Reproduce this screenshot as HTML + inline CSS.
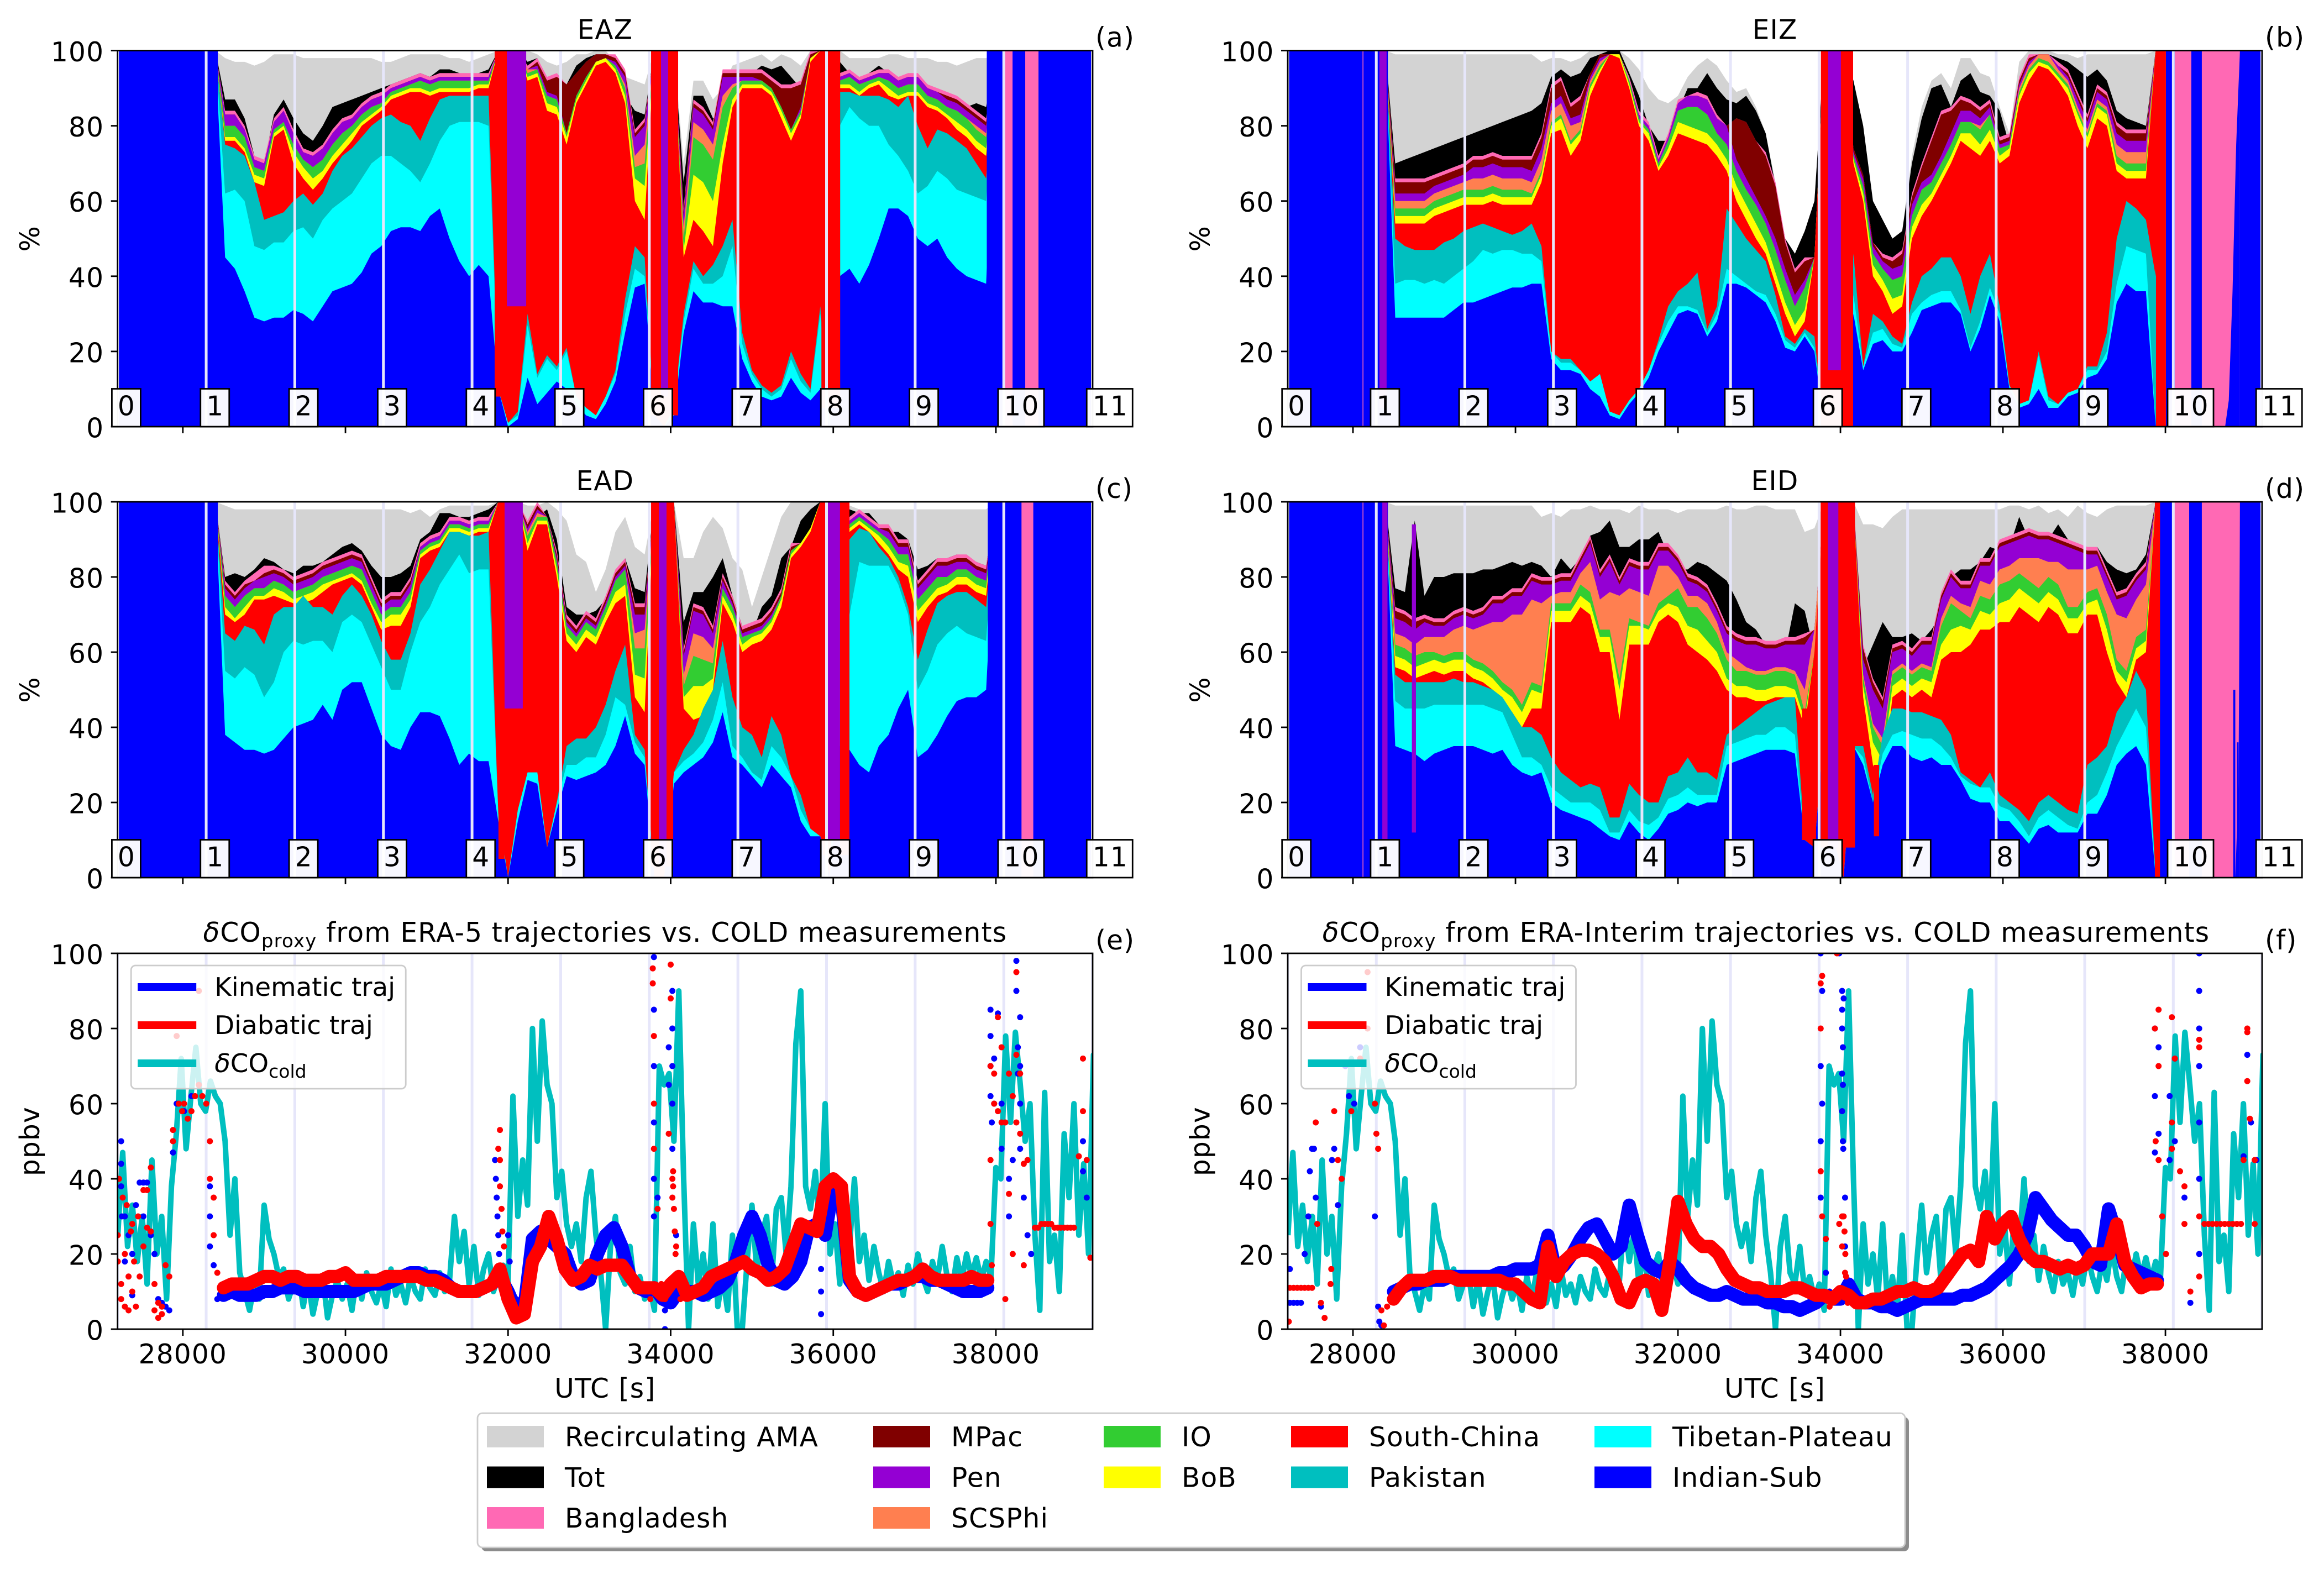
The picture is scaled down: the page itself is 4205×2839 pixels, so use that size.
<!DOCTYPE html>
<html lang="en">
<head>
<meta charset="utf-8">
<title>Air mass source contributions and CO proxy</title>
<style>
html,body{margin:0;padding:0;background:#fff}
svg{display:block}
text{font-family:"DejaVu Sans","Liberation Sans",sans-serif;font-size:48.6px;letter-spacing:1.15px;fill:#000}
</style>
</head>
<body>
<svg id="fig" xmlns="http://www.w3.org/2000/svg" width="4205" height="2839" viewBox="0 0 4205 2839"><defs id="defs"></defs></svg>
<script>
// ---------- stack grid (UTC seconds of each sample) ----------
const stackStart = 28400;
const stackStep = 120;
const yTicks = [0, 20, 40, 60, 80, 100];
const xTicks = [28000, 30000, 32000, 34000, 36000, 38000];
const sectionStart = 27197;
const sectionStep = 1090;
const sectionLabels = ['0','1','2','3','4','5','6','7','8','9','10','11'];
const layerNames = ['Indian-Sub','Tibetan-Plateau','Pakistan','South-China','BoB','IO','SCSPhi','Pen','MPac','Bangladesh','Tot','Recirculating AMA'];
const layerColors = ['#0000ff','#00ffff','#00bfbf','#ff0000','#ffff00','#32cd32','#ff7f50','#9400d3','#800000','#ff69b4','#000000','#d3d3d3'];

// ---------- panel (a) EAZ: upper edges (%) of base layers, shares (%) of thin layers ----------
const aIndianSub = [100,45,42,36,29,28,29,29,31,30, 28,32,36,37,38,41,46,48,52,53, 53,52,56,58,50,44,40,43,40,10, 0,2,13,6,9,12,10,6,3,2, 6,12,25,37,38,3,0,3,25,36, 33,33,32,32,18,12,8,7,8,13, 9,7,10,0,40,42,38,43,50,58, 58,56,50,48,50,45,42,40,39,38, 100];
const aTibetan = [100,62,63,60,48,47,49,49,52,53, 50,55,58,60,62,66,70,72,72,70, 68,65,70,76,80,81,81,81,80,10, 1,3,27,13,18,15,20,8,5,3, 8,14,30,42,40,3,0,5,28,42, 38,38,40,48,22,14,10,8,10,18, 12,9,30,0,80,85,82,80,80,75, 72,68,62,64,68,66,63,62,61,60, 100];
const aPakistan = [100,75,74,72,65,55,56,57,60,62, 59,62,68,72,74,77,80,82,83,81, 80,76,82,87,88,88,88,88,88,10, 1,4,30,14,19,16,21,8,5,3, 8,15,34,48,45,3,0,5,30,44, 40,43,48,55,25,15,11,9,11,20, 14,10,32,0,89,89,88,88,88,87, 85,88,80,74,79,78,76,74,70,66, 100];
const aSouthChina = [100,76,76,73,65,64,77,79,70,66, 63,66,70,73,76,80,82,84,87,88, 89,89,88,89,89,89,89,90,90,100, 100,100,92,93,84,83,75,86,91,96, 97,94,86,60,55,100,100,100,45,55, 52,48,70,85,90,90,90,88,82,76, 82,97,100,100,90,90,88,90,91,88, 87,88,88,85,84,82,79,77,74,72, 100];
const aBoB = [0,1,1,1,2,2,1,1,3,3, 3,2,2,2,2,1,1,1,1,1, 1,1,1,1,1,1,1,1,1,0, 0,0,1,1,2,2,2,1,1,1, 1,1,2,6,9,0,0,0,2,12, 13,12,5,2,1,1,1,1,2,2, 1,1,0,0,1,1,1,1,1,2, 1,1,1,1,1,1,2,2,2,2, 0];
const aIO = [0,3,3,3,2,2,1,1,2,2, 3,3,3,3,2,2,2,1,1,1, 1,2,2,2,2,2,2,1,1,0, 0,0,1,1,2,2,1,1,1,0, 0,1,2,3,6,0,0,0,3,10, 10,11,10,3,1,1,1,1,1,1, 1,0,0,0,1,2,2,1,1,2, 2,2,2,2,2,2,3,3,3,3, 0];
const aSCSPhi = [0,0,0,0,0,0,0,0,0,0, 0,0,0,0,0,0,0,0,0,0, 0,0,0,0,0,0,0,0,0,0, 0,0,1,0,0,0,0,0,0,0, 0,0,1,3,5,0,0,0,3,4, 4,4,3,1,0,0,0,0,0,0, 0,0,0,0,0,0,0,0,0,0, 0,0,0,0,0,0,0,0,1,1, 0];
const aPen = [0,3,3,2,2,2,2,3,3,2, 3,3,3,3,2,2,2,2,1,1, 1,1,1,1,1,1,1,1,1,0, 0,0,0,1,1,1,0,0,0,0, 0,1,2,5,5,0,0,0,3,4, 4,4,5,2,1,1,0,0,0,0, 1,0,0,0,1,1,1,1,1,2, 2,2,2,2,2,2,2,2,2,2, 0];
const aMPac = [0,0,0,0,0,0,0,0,0,0, 0,0,0,0,0,0,0,0,0,0, 0,0,0,0,0,0,0,0,0,0, 0,0,0,1,3,5,13,6,4,2, 1,1,1,1,1,0,0,0,1,1, 1,1,1,1,1,1,2,2,5,11, 6,1,0,0,0,0,0,0,0,0, 0,0,0,0,0,1,1,1,1,1, 0];
const aBangladesh = [0,1,1,1,1,1,1,1,1,1, 1,1,1,1,1,1,1,1,1,1, 1,1,1,1,1,1,1,1,1,0, 0,0,1,1,1,1,0,0,0,0, 0,1,1,1,1,0,0,0,1,1, 1,1,1,1,1,1,1,1,1,1, 1,1,0,0,1,1,1,1,1,1, 1,1,1,1,1,1,1,1,1,1, 0];
const aTot = [100,87,87,82,72,70,83,87,82,78, 76,80,85,86,87,88,89,90,91,92, 93,94,93,95,95,94,93,94,95,100, 100,100,97,98,88,93,91,96,98,99, 99,96,88,84,83,100,100,100,65,88, 88,82,83,90,93,94,96,95,96,93, 90,98,100,100,97,94,92,94,96,94, 93,93,92,91,89,87,86,85,86,85, 100];
const aRecirc = [100,98,97,97,96,97,99,99,99,98, 98,98,98,98,98,98,98,97,97,98, 99,99,99,99,98,98,97,98,99,100, 100,100,100,99,97,96,97,99,99,100, 100,97,93,92,91,100,100,100,70,92, 92,87,90,96,97,98,99,97,99,98, 96,100,100,100,100,98,98,98,98,99, 99,98,98,98,97,97,96,97,98,98, 100];
const aColumns = [['Indian-Sub',27197,28430,0,100],['Indian-Sub',37888,39190,0,100],['South-China',31835,31985,8,100],['Pen',31985,32223,32,100],['South-China',33759,33881,3,100],['Pen',33881,33970,8,100],['South-China',33970,34092,3,100],['South-China',35854,36085,5,100],['Bangladesh',38096,38205,0,100],['Bangladesh',38361,38524,0,100]];
const aTailUtc = [];
const aTailBlue = [];

// ---------- panel (b) EIZ ----------
const bIndianSub = [100,29,29,29,29,29,29,31,33,33, 34,35,36,37,37,38,38,18,15,15, 14,10,8,3,2,6,9,13,20,25, 30,31,30,24,28,38,38,37,35,33, 28,21,20,24,20,0,0,0,30,15, 22,23,20,20,25,31,32,33,33,30, 20,26,35,28,10,5,6,10,5,5, 8,9,13,14,18,33,38,36,36,0, 100];
const bTibetan = [100,38,39,39,38,39,38,40,42,44, 47,46,47,47,46,46,44,20,17,17, 15,12,14,4,3,7,10,15,22,28, 32,32,31,25,30,42,40,38,36,35, 30,23,21,25,21,0,0,0,35,16, 25,26,22,21,30,33,35,36,36,31, 21,28,37,30,11,6,7,19,7,6, 9,10,15,15,20,38,48,47,46,0, 100];
const bPakistan = [100,50,48,47,47,47,49,50,52,53, 54,53,52,51,52,54,48,20,18,18, 15,12,14,4,3,7,10,15,23,32, 36,38,41,26,32,58,54,50,47,44, 35,24,22,26,24,0,0,0,46,16, 30,28,24,22,33,40,42,45,45,40, 30,40,46,32,11,6,7,20,8,6, 9,10,16,16,25,50,60,58,55,40, 100];
const bSouthChina = [100,54,54,54,54,56,57,58,59,59, 59,60,59,59,59,59,65,78,79,72, 76,88,94,99,98,90,80,76,68,72, 78,77,76,75,72,68,60,55,50,46, 38,30,24,28,45,100,100,100,70,60, 40,36,30,32,50,56,60,65,70,76, 74,72,76,70,72,86,92,96,95,92, 88,80,74,82,80,68,66,66,66,100, 100];
const bBoB = [0,2,2,2,2,2,2,2,2,2, 2,2,2,2,2,2,2,2,3,3, 2,2,1,0,1,1,1,2,1,2, 3,3,3,3,3,3,4,4,4,3, 3,3,3,3,0,0,0,0,1,2, 3,3,4,3,3,3,2,2,2,2, 4,3,3,2,2,2,2,1,1,1, 2,3,3,3,3,2,2,2,2,0, 0];
const bIO = [0,2,2,2,2,2,2,2,2,2, 2,2,2,2,2,1,1,1,1,1, 1,1,1,0,0,1,1,1,1,2, 3,5,6,5,3,4,4,4,5,5, 6,6,5,6,0,0,0,0,1,2, 3,3,5,5,3,4,3,3,3,3, 3,4,4,2,1,1,1,1,1,1, 1,1,1,1,1,2,2,2,2,0, 0];
const bSCSPhi = [0,2,2,2,2,2,2,2,2,3, 3,3,3,3,3,3,3,3,3,4, 2,1,1,0,0,0,0,0,0,0, 0,0,0,0,0,0,0,0,0,0, 0,0,0,0,0,0,0,0,0,0, 0,0,0,0,0,0,0,0,0,0, 0,1,0,0,0,1,1,1,2,1, 1,1,1,1,1,3,3,3,3,0, 0];
const bPen = [0,2,2,2,2,2,2,2,2,3, 3,3,3,3,3,3,3,2,2,2, 2,1,1,0,0,0,1,1,1,1, 2,3,3,4,4,5,3,3,2,2, 3,3,3,2,0,0,0,0,1,2, 2,2,3,3,3,2,2,2,3,3, 3,2,2,1,1,1,1,0,0,1, 1,2,2,2,2,3,3,3,3,0, 0];
const bMPac = [0,3,3,3,3,2,2,2,2,2, 2,2,2,2,2,3,3,4,4,3, 4,1,1,0,0,0,0,0,0,0, 0,0,0,0,0,0,11,15,15,16, 14,7,6,5,0,0,0,0,1,1, 1,1,2,3,2,4,9,11,6,3, 2,2,1,1,1,1,1,0,0,0, 1,1,1,1,1,2,2,2,2,0, 0];
const bBangladesh = [0,1,1,1,1,1,1,1,1,1, 1,1,1,1,1,1,1,1,1,1, 1,0,0,0,0,1,1,1,1,1, 1,0,1,1,1,0,0,0,0,1, 1,1,1,1,0,0,0,0,0,0, 0,1,1,1,1,1,1,1,1,1, 1,1,1,1,1,1,1,0,0,1, 1,1,1,1,1,1,1,1,1,0, 0];
const bTot = [100,70,71,72,73,74,75,76,77,78, 79,80,81,82,83,84,86,93,95,93, 94,98,99,100,100,94,88,80,76,76, 84,90,90,94,90,87,86,88,84,78, 64,50,46,52,60,100,100,100,92,80, 60,55,50,52,70,82,90,91,85,92, 94,89,88,84,75,92,98,98,99,98, 97,95,93,95,92,84,82,81,80,100, 100];
const bRecirc = [100,99,99,99,99,99,99,99,99,99, 99,99,99,99,99,99,97,98,98,97, 98,100,100,100,100,98,95,90,87,86, 88,93,96,98,96,92,89,90,85,78, 65,50,46,52,60,100,100,100,92,80, 60,55,50,52,72,85,92,94,90,98, 98,94,93,85,78,97,100,100,100,99, 99,98,99,99,99,99,99,99,99,100, 100];
const bColumns = [['Indian-Sub',27197,28430,0,100],['Bangladesh',28118,28128,0,100],['Pen',28325,28414,5,100],['South-China',33760,33850,0,100],['Pen',33850,34006,15,100],['South-China',34006,34156,0,100],['South-China',37884,38006,0,100],['Indian-Sub',38006,39190,0,100],['Bangladesh',38115,38319,0,100],['Bangladesh',38448,38917,0,100]];
const bTailUtc = [38735,38780,38826,38871,38917];
const bTailBlue = [0,7,36,75,100];

// ---------- panel (c) EAD ----------
const cIndianSub = [100,38,36,34,34,33,34,37,40,41, 42,46,42,50,52,52,45,38,35,34, 40,44,44,43,37,30,33,31,31,15, 0,15,26,25,8,18,27,26,27,28, 30,35,43,33,30,0,0,25,28,30, 32,36,44,32,30,27,24,30,27,24, 15,11,11,0,35,34,30,28,35,38, 45,50,32,34,38,43,47,48,48,50, 100];
const cTibetan = [100,55,53,56,54,48,52,60,63,62, 63,63,60,68,70,68,62,56,50,50, 60,68,72,78,82,86,81,82,82,17, 0,18,28,28,8,20,30,30,32,32, 38,48,46,36,32,0,0,28,31,33, 36,42,52,35,32,28,26,35,32,27, 18,13,11,0,50,70,84,83,83,83, 78,70,50,55,62,65,67,65,64,63, 100];
const cPakistan = [100,65,63,67,66,62,70,72,72,75, 72,72,70,75,78,75,70,63,58,58, 65,78,82,87,92,92,91,91,92,17, 0,18,28,28,8,20,35,37,37,40, 46,55,62,38,34,0,0,28,34,38, 45,50,63,48,40,38,32,43,38,27, 22,13,11,0,85,90,93,92,88,85, 80,72,58,66,73,75,76,76,74,72, 100];
const cSouthChina = [100,70,68,70,74,74,75,74,73,73, 74,76,78,79,80,78,72,66,67,67, 72,85,87,88,92,92,91,92,92,100, 100,100,87,94,94,80,63,60,64,62, 68,73,75,48,44,100,100,100,45,42, 43,50,73,68,60,62,63,66,72,85, 88,92,100,100,100,92,94,92,89,86, 82,80,68,72,75,76,78,78,76,75, 100];
const cBoB = [0,2,1,2,1,1,2,2,1,2, 2,2,1,1,1,1,1,2,3,3, 2,1,1,1,1,1,1,1,1,0, 0,0,2,1,1,2,2,2,2,2, 2,3,3,6,9,0,0,0,3,9, 8,3,2,2,2,2,2,2,2,1, 1,1,0,0,0,1,1,1,2,2, 2,3,3,2,2,2,2,2,2,2, 0];
const cIO = [0,3,3,3,2,2,2,2,2,2, 2,2,2,2,2,3,3,2,2,2, 2,1,1,1,1,1,1,1,1,0, 0,0,2,1,1,2,2,2,2,2, 2,3,4,7,8,0,0,0,3,8, 7,4,2,2,2,1,1,1,1,1, 0,0,0,0,0,1,1,1,1,2, 2,3,3,3,3,2,2,2,2,2, 0];
const cSCSPhi = [0,0,0,0,0,0,0,0,0,0, 0,0,0,0,0,0,0,0,0,0, 0,0,0,0,0,0,0,0,0,0, 0,0,1,1,0,0,0,0,0,0, 0,0,0,4,5,0,0,0,3,6, 6,4,0,0,0,0,0,0,0,0, 0,0,0,0,0,0,0,0,0,0, 0,0,0,0,0,0,0,0,0,0, 0];
const cPen = [0,2,2,2,2,3,2,2,2,2, 2,2,2,2,2,2,2,2,2,2, 2,1,1,1,1,1,1,1,1,0, 0,0,1,1,0,1,1,1,1,1, 1,1,1,5,4,0,0,0,5,6, 6,4,2,1,1,1,1,1,0,0, 0,0,0,0,0,1,1,1,1,2, 2,2,3,3,3,3,2,2,2,2, 0];
const cMPac = [0,1,1,1,0,1,1,1,1,1, 1,1,1,1,1,1,1,1,1,1, 1,0,0,0,0,0,0,0,0,0, 0,0,1,1,0,1,1,1,1,1, 1,1,1,2,2,0,0,0,1,1, 1,1,1,1,1,1,1,1,1,1, 0,0,0,0,0,0,0,0,0,1, 1,1,1,1,1,1,1,1,1,1, 0];
const cBangladesh = [0,1,1,1,2,2,1,1,1,1, 1,1,1,1,1,1,1,1,1,1, 1,1,1,1,1,1,1,1,1,0, 0,0,1,1,0,1,1,1,1,1, 1,1,1,1,1,0,0,0,1,1, 1,1,1,1,1,1,1,1,1,1, 0,0,0,0,0,1,1,1,1,1, 1,1,1,1,1,1,1,1,1,1, 0];
const cTot = [100,80,81,80,82,85,84,82,81,83, 83,84,86,88,89,87,83,80,80,81, 83,90,92,97,97,96,96,97,98,100, 100,100,92,96,98,90,72,70,70,71, 74,78,85,77,76,100,100,100,68,76, 76,80,85,75,67,65,72,75,85,88, 95,98,100,100,100,98,97,97,94,92, 92,90,82,83,85,85,86,85,84,83, 100];
const cRecirc = [100,99,98,98,98,98,98,98,98,98, 98,98,98,98,98,98,98,98,98,98, 97,98,96,98,99,99,99,99,99,100, 100,100,99,99,100,98,95,86,84,76, 82,92,96,88,86,100,100,100,85,85, 92,96,93,85,82,72,80,88,96,100, 100,100,100,100,100,99,98,98,98,98, 98,98,98,98,98,98,98,98,98,98, 100];
const cColumns = [['Indian-Sub',27197,28430,0,100],['Indian-Sub',37900,39190,0,100],['South-China',31882,31957,5,100],['Pen',31957,32181,45,100],['South-China',33759,33854,3,100],['Pen',33854,33949,3,100],['South-China',33949,34031,3,100],['South-China',35873,35927,6,100],['Pen',35927,36083,10,100],['South-China',36083,36199,6,100],['Bangladesh',38315,38460,0,100]];
const cTailUtc = [];
const cTailBlue = [];

// ---------- panel (d) EID ----------
const dIndianSub = [100,35,34,33,31,33,34,35,35,35, 34,33,34,30,28,27,28,20,18,17, 16,15,13,11,10,15,12,10,13,17, 18,20,19,20,20,30,31,32,33,34, 34,34,33,10,8,40,10,0,35,30, 20,30,35,35,32,31,32,30,30,26, 21,20,20,15,15,12,9,13,14,12, 12,12,17,17,22,30,33,35,30,0, 100];
const dTibetan = [100,47,45,45,45,46,46,46,46,46, 46,45,44,38,32,32,30,24,22,20, 20,20,18,12,12,18,15,14,16,21, 22,24,22,22,22,35,36,37,38,38, 40,40,38,10,8,40,10,0,35,32, 20,33,38,39,38,37,37,35,32,27, 25,24,24,19,18,15,11,16,18,16, 14,13,20,22,28,35,40,45,40,0, 100];
const dPakistan = [100,54,52,52,52,52,52,53,52,52, 51,50,48,44,40,40,38,32,28,26, 24,25,24,16,16,25,22,20,20,27, 28,32,28,28,26,38,40,42,44,46, 47,48,48,10,8,40,10,0,35,35, 22,38,45,45,44,44,43,42,38,28, 26,24,28,22,20,18,15,20,22,20, 18,17,30,32,35,44,48,55,50,0, 100];
const dSouthChina = [100,56,55,53,54,55,54,55,55,53, 52,50,47,44,40,45,45,68,68,68, 72,70,60,60,42,62,62,62,68,70, 68,62,60,58,55,50,48,48,47,47, 48,48,48,40,60,100,100,100,100,48, 30,25,48,50,48,50,48,58,60,60, 62,66,66,68,68,72,70,68,72,70, 65,65,70,70,60,52,48,58,60,100, 100];
const dBoB = [0,3,3,3,3,3,3,3,3,3, 3,3,3,4,4,5,4,3,3,3, 3,3,4,4,8,5,5,4,3,3, 4,5,6,5,5,3,3,3,3,3, 3,3,2,2,0,0,0,0,0,3, 6,6,3,3,3,3,4,4,6,7, 4,5,4,5,6,5,5,5,4,4, 4,4,3,4,6,3,4,3,3,0, 0];
const dIO = [0,3,3,3,3,2,2,2,2,2, 2,2,2,2,2,2,2,2,2,2, 3,3,2,2,3,2,1,1,2,2, 5,5,6,6,5,5,4,4,4,4, 4,4,4,2,0,0,0,0,0,2, 4,4,3,3,3,3,3,5,7,4, 3,4,4,5,5,4,4,4,4,4, 3,3,3,3,4,3,3,3,3,0, 0];
const dSCSPhi = [0,3,3,3,4,4,5,6,7,8, 10,13,16,20,24,22,22,2,3,3, 3,8,8,10,22,8,8,8,10,8, 3,3,3,4,3,2,3,1,1,1, 1,1,1,6,6,0,0,0,0,1, 1,2,1,1,1,1,1,2,2,2, 3,4,4,4,4,4,6,8,4,6, 10,10,6,6,6,12,14,10,12,0, 0];
const dPen = [0,4,4,4,4,3,3,3,3,3, 3,5,5,5,5,5,5,3,3,3, 3,5,6,8,3,6,6,7,4,4, 4,4,3,3,3,5,5,6,7,6, 5,6,7,12,0,0,0,0,0,4, 9,8,5,4,4,5,6,5,5,4, 5,4,5,6,6,5,6,5,6,5, 6,5,4,3,4,4,6,5,4,0, 0];
const dMPac = [0,2,2,2,1,1,1,1,1,1, 1,1,1,1,1,1,1,1,1,1, 1,1,1,1,1,1,1,1,1,1, 1,1,1,1,1,1,1,1,1,1, 1,1,1,2,0,0,0,0,0,3, 2,2,1,1,1,1,1,1,1,1, 1,1,1,1,1,1,1,1,1,1, 1,1,1,1,1,1,1,1,1,0, 0];
const dBangladesh = [0,1,1,1,1,1,1,1,1,1, 1,1,1,1,1,1,1,1,1,1, 1,1,1,1,1,1,1,1,1,1, 1,1,1,1,1,1,1,1,1,1, 1,1,1,1,0,0,0,0,0,1, 1,1,1,1,1,1,1,1,1,1, 1,1,1,1,1,1,1,1,1,1, 1,1,1,1,1,1,1,1,1,0, 0];
const dTot = [100,77,76,95,75,80,80,81,81,81, 82,82,83,84,83,84,83,80,85,82, 85,91,92,95,88,88,90,90,92,86, 82,82,84,83,81,79,74,68,66,62, 62,60,73,71,60,100,100,100,100,56, 62,68,64,64,65,63,66,70,80,82, 82,84,88,87,88,96,90,88,90,94, 90,88,84,88,84,82,81,82,86,100, 100];
const dRecirc = [100,99,99,99,99,99,99,99,99,99, 99,99,99,99,99,99,96,97,96,98, 98,99,98,98,98,97,99,98,98,98, 97,98,98,98,98,99,98,98,99,99, 98,98,98,92,93,100,100,100,100,94, 94,93,96,98,98,98,98,98,98,98, 98,98,98,98,99,99,98,99,97,98, 96,99,97,96,98,99,99,99,99,100, 100];
const dColumns = [['Indian-Sub',27197,28430,0,100],['Bangladesh',28118,28128,0,100],['Pen',28361,28425,5,100],['Pen',28725,28775,12,94],['South-China',33526,33700,10,45],['South-China',33757,33846,8,100],['Pen',33846,33975,8,100],['South-China',33975,34179,8,100],['South-China',34412,34476,11,30],['South-China',37870,37934,0,100],['Indian-Sub',37934,39190,0,100],['Bangladesh',38107,38292,0,100],['Bangladesh',38448,38917,0,100],['Indian-Sub',38835,38860,0,50],['Indian-Sub',38880,38900,0,36]];
const dTailUtc = [38860,38900,38917];
const dTailBlue = [0,25,100];

// ---------- CO panels ----------
const coldStart = 27200;
const coldStep = 60;
const coldPpb = [25,47,22,33,18,30,12,45,20,30,8,38, 52,72,48,62,75,60,58,66,62,60,50,25,40,15, 10,5,12,8,33,24,20,14,16,8, 12,15,6,13,4,10,14,3,9,13, 8,12,5,14,8,15,10,7,12,6, 16,9,12,7,14,10,8,16,11,9, 15,10,13,30,18,26,12,22,9,16, 20,10,14,17,12,62,30,45,33,80, 50,82,65,60,35,42,28,22,28,18, 35,42,25,15,0,22,30,15,12,22, 10,14,8,12,5,70,65,68,50,90, 40,0,28,12,20,8,28,6,14,5, 25,0,0,18,33,15,25,30,12,32, 35,20,38,76,90,38,32,42,25,60, 20,28,12,30,22,40,18,25,13,22, 15,10,18,12,15,9,17,12,20,14, 10,18,13,22,14,10,19,13,20,14, 19,13,18,14,43,40,78,55,79,65, 50,60,25,5,63,18,25,10,52,35, 60,25,44,20,73,15];
const kinBandStart = 28500;
const kinBandStep = 100;
const kin5Band = [9,10,9,9,9,10, 10,11,11,11,10,10,10,10,10,10, 10,11,12,12,12,13,14,15, 15,14,14,13,11,10,10, 10,11,12, 14,10,5,6, 24,26,24,22,20,14, 12,13,20,25,27,22, 14,11,10, 11,8,7,10,10, 10,9,10,11,13,18, 25,30,25,17,13, 12,14,18,27, 28,25,38,35, 13,10,9,10, 11,12,12,13,14, 14,13,13,12,11,10,10,10,11];
const dia5Band = [11,12,12,12,13,14, 14,13,14,14,13,13,13,14,14,15, 13,13,13,13,14,14,14,14, 14,13,13,12,11,10,10, 10,11,12, 16,8,3,4, 18,22,30,24,16,13, 14,17,16,17,17,17, 14,11,11, 11,9,12,14,9, 10,11,14,15,16,17, 18,16,15,13,14, 16,22,28,27, 26,38,40,38, 14,10,9,10, 11,12,13,13,14, 16,14,13,13,13,13,14,13,13];
const kinIntBand = [10,11,12,12,13,13, 13,14,14,14,14,14,14,15,15,16, 16,16,17,25,15,17,20,24, 27,28,24,20,22,33,25, 18,16,15, 18,16,13,11, 10,9,9,10,9,8, 8,8,7,7,6,6, 5,6,7, 9,8,8,12,8, 7,7,6,6,5,6, 7,8,8,8,8, 8,9,9,10, 11,13,15,17, 20,25,35,32, 29,27,25,25,22, 18,17,32,25,17,16,15,14,13];
const diaIntBand = [8,11,13,13,13,14, 14,14,13,13,13,13,13,13,12,12, 10,8,7,22,14,18,20,21, 21,20,18,14,8,7,12, 13,12,5, 18,34,28,24, 22,22,20,16,13,12, 11,11,10,10,10,11, 11,10,9, 9,8,10,9,7, 7,8,8,9,10,10, 11,10,10,11,14, 17,20,21,18, 30,24,28,30, 24,20,18,18, 17,16,17,16,17, 20,20,20,28,18,14,11,12,12];
const kin5Scatter = [[27241,50],[27241,44],[27241,38],[27250,30],[27287,30],[27287,18],[27332,25],[27378,20],[27378,9],[27423,33],[27469,39],[27515,39],[27560,39],[27515,30],[27606,25],[27651,20],[27697,8],[27742,7],[27788,6],[27833,5],[27879,47],[27924,60],[28015,58],[28106,62],[28197,65],[28333,38],[28333,30],[28333,22],[28379,17],[28424,8],[31840,45],[31850,40],[31860,35],[31870,30],[31880,25],[31890,20],[32000,25],[32020,18],[32100,8],[33794,99],[33794,85],[33794,70],[33794,55],[33794,40],[33794,30],[33839,35],[33885,10],[33930,5],[33930,0],[33976,75],[33976,65],[34021,90],[34021,80],[34021,70],[34021,60],[34021,48],[34067,25],[35850,4],[35850,10],[35850,16],[37934,85],[37934,78],[37934,70],[37934,62],[37950,55],[37979,72],[37979,60],[38025,84],[38070,60],[38070,48],[38161,40],[38161,30],[38207,45],[38252,98],[38252,90],[38270,75],[38270,68],[38298,83],[38298,70],[38298,60],[38298,48],[38343,35],[38389,25],[38434,20],[39071,50],[39071,42],[39117,35]];
const dia5Scatter = [[27200,18],[27200,25],[27215,40],[27241,12],[27241,8],[27260,35],[27287,6],[27287,20],[27310,33],[27332,5],[27332,14],[27360,26],[27378,10],[27378,28],[27400,18],[27423,6],[27450,30],[27469,14],[27515,37],[27515,22],[27560,37],[27560,27],[27606,43],[27606,26],[27651,5],[27651,12],[27697,3],[27697,7],[27742,4],[27742,6],[27788,17],[27833,14],[27879,50],[27879,53],[27924,78],[27950,60],[27990,58],[28015,60],[28060,56],[28106,58],[28150,62],[28197,90],[28197,65],[28240,62],[28288,60],[28333,50],[28333,40],[28379,35],[28379,25],[28424,15],[31880,48],[31900,53],[31900,45],[31900,38],[31920,32],[31930,26],[31950,22],[33750,8],[33780,96],[33780,92],[33794,78],[33794,60],[33794,48],[33839,32],[33885,12],[33930,8],[33976,52],[34000,97],[34000,88],[34021,40],[34021,35],[34030,42],[34030,38],[34040,32],[34050,26],[34060,20],[34067,22],[34120,8],[37934,70],[37934,45],[37934,28],[37950,17],[37979,68],[37979,60],[38025,83],[38025,58],[38070,75],[38070,55],[38116,55],[38116,8],[38161,68],[38161,36],[38207,62],[38207,20],[38252,95],[38252,73],[38252,55],[38298,68],[38298,52],[38343,44],[38343,17],[38389,45],[38480,27],[38520,27],[38560,28],[38600,28],[38640,28],[38680,28],[38720,27],[38760,27],[38800,27],[38840,27],[38880,27],[38920,27],[38960,27],[39020,46],[39071,72],[39071,58],[39117,45],[39162,19]];
const kinIntScatter = [[27223,16],[27223,7],[27269,7],[27314,7],[27360,7],[27405,20],[27451,30],[27469,42],[27496,48],[27520,48],[27542,35],[27606,6],[27742,45],[27769,48],[27815,33],[27906,70],[27950,62],[28015,60],[28088,75],[28270,30],[28310,6],[28324,2],[28350,1],[33757,100],[33775,90],[33757,70],[33757,50],[33757,35],[33775,60],[33821,15],[33866,10],[33985,100],[34021,90],[34021,85],[34021,80],[34030,75],[34021,68],[34030,65],[34021,58],[34030,50],[34035,48],[34040,88],[34057,35],[34057,22],[37870,80],[37870,62],[37870,47],[37916,75],[37916,52],[37961,30],[38052,62],[38052,45],[38116,72],[38116,50],[38234,35],[38307,7],[38416,100],[38416,90],[38416,80],[38416,70],[38416,55],[38416,40],[38416,20],[39008,73],[38962,46],[39053,55],[39120,45]];
const diaIntScatter = [[27210,2],[27223,11],[27269,11],[27314,11],[27360,11],[27405,11],[27451,11],[27496,11],[27542,55],[27560,28],[27606,7],[27651,3],[27724,12],[27733,16],[27769,58],[27815,45],[27860,40],[27979,58],[28179,95],[28179,80],[28088,72],[28270,60],[28288,52],[28310,48],[28350,5],[28380,1],[28420,6],[33757,92],[33775,94],[33757,80],[33757,42],[33775,30],[33821,24],[33866,6],[33957,100],[33985,28],[34021,30],[34021,22],[34040,30],[34050,26],[34060,20],[34070,14],[34057,15],[34090,7],[37870,80],[37880,50],[37916,85],[37916,70],[37916,45],[37961,30],[38007,20],[38080,83],[38080,55],[38080,48],[38116,72],[38180,42],[38234,38],[38234,28],[38307,10],[38416,77],[38416,75],[38416,30],[38416,14],[38480,28],[38530,28],[38580,28],[38630,28],[38680,28],[38730,28],[38780,28],[38830,28],[38880,28],[38930,28],[38962,45],[39008,80],[39008,79],[39008,66],[39040,56],[39099,45],[39099,28]];

// ---------- layout and scales ----------
const svg = document.getElementById('fig');
const defs = document.getElementById('defs');
const NS = 'http://www.w3.org/2000/svg';
const colX = [[212.7, 1977], [2330, 4093]];
const rowY = [[91.5, 772], [908, 1588], [1725, 2405]];
const utcMin = 27197;
const utcMax = 39190;
function xAxis(col) { return function (u) { return colX[col][0] + (u - utcMin) / (utcMax - utcMin) * (colX[col][1] - colX[col][0]); }; }
function yAxis(row) { return function (v) { return rowY[row][1] - v / 100 * (rowY[row][1] - rowY[row][0]); }; }
function mk(tag, parent, attrs, txt) {
  const el = document.createElementNS(NS, tag);
  for (const k in attrs) el.setAttribute(k, attrs[k]);
  if (txt !== undefined) el.textContent = txt;
  parent.appendChild(el);
  return el;
}
function fmt(n) { return n.toFixed(1); }

function drawAxes(g, col, row, titleNode, tag, yLabel, showXLabels) {
  const xs = xAxis(col), ys = yAxis(row);
  const x0 = colX[col][0], x1 = colX[col][1], y0 = rowY[row][0], y1 = rowY[row][1];
  const frame = mk('rect', g, {x: x0, y: y0, width: x1 - x0, height: y1 - y0, fill: 'none', stroke: '#000', 'stroke-width': 2.8});
  
  
  yTicks.forEach(function (t) {
    const tick = mk('line', g, {x1: x0 - 12, x2: x0, y1: ys(t), y2: ys(t), stroke: '#000', 'stroke-width': 2.8});
    
    
    const lab = mk('text', g, {x: x0 - 24.5, y: ys(t) + 19.5, 'text-anchor': 'end'}, String(t));
    
    
  });
  xTicks.forEach(function (t) {
    const tick = mk('line', g, {x1: xs(t), x2: xs(t), y1: y1, y2: y1 + 12, stroke: '#000', 'stroke-width': 2.8});
    
    
    if (showXLabels) {
      const lab = mk('text', g, {x: xs(t), y: y1 + 62, 'text-anchor': 'middle'}, String(t));
      
      
    }
  });
  if (showXLabels) {
    const xl = mk('text', g, {x: (x0 + x1) / 2, y: y1 + 124, 'text-anchor': 'middle'}, 'UTC [s]');
    
    
  }
  const yc = (y0 + y1) / 2;
  const lx = x0 - 141.7;
  const yl = mk('text', g, {x: lx, y: yc, 'text-anchor': 'middle', transform: 'rotate(-90 ' + lx + ' ' + yc + ')'}, yLabel);
  
  
  const tg = mk('text', g, {x: x1 + 5, y: y0 - 7}, tag);
  
  
  const title = mk('text', g, {x: (x0 + x1) / 2, y: y0 - 21, 'text-anchor': 'middle'});
  
  
  titleNode(title);
}

function clipFor(id, col, row) {
  const cp = mk('clipPath', defs, {id: id});
  mk('rect', cp, {x: colX[col][0], y: rowY[row][0], width: colX[col][1] - colX[col][0], height: rowY[row][1] - rowY[row][0]});
}

function drawStackPanel(name, col, row, titleText, tag, base, thin, tot, recirc, columns, tailUtc, tailBlue) {
  const xs = xAxis(col), ys = yAxis(row);
  const g = mk('g', svg, {});
  
  
  clipFor('clip-' + name, col, row);
  const plot = mk('g', g, {'clip-path': 'url(#clip-' + name + ')'});
  
  
  const tops = base.slice();
  thin.forEach(function (share) {
    const prev = tops[tops.length - 1];
    tops.push(share.map(function (s, i) { return Math.min(100, prev[i] + s); }));
  });
  tops.push(tot);
  tops.push(recirc);
  for (let k = tops.length - 1; k >= 0; k--) {
    const arr = tops[k];
    let pts = fmt(xs(stackStart)) + ',' + fmt(ys(0));
    arr.forEach(function (v, i) { pts += ' ' + fmt(xs(stackStart + i * stackStep)) + ',' + fmt(ys(v)); });
    pts += ' ' + fmt(xs(stackStart + (arr.length - 1) * stackStep)) + ',' + fmt(ys(0));
    const poly = mk('polygon', plot, {points: pts, fill: layerColors[k]});
    
    
  }
  columns.forEach(function (c) {
    const r = mk('rect', plot, {x: xs(c[1]), y: ys(c[4]), width: xs(c[2]) - xs(c[1]), height: ys(c[3]) - ys(c[4]), fill: layerColors[layerNames.indexOf(c[0])]});
    
    
  });
  if (tailUtc.length) {
    let pts = '';
    tailUtc.forEach(function (u, i) { pts += fmt(xs(u)) + ',' + fmt(ys(tailBlue[i])) + ' '; });
    pts += fmt(xs(tailUtc[tailUtc.length - 1])) + ',' + fmt(ys(0));
    const t = mk('polygon', plot, {points: pts, fill: layerColors[0]});
    
    
  }
  sectionLabels.forEach(function (s, i) {
    const u = sectionStart + i * sectionStep;
    const ln = mk('line', plot, {x1: xs(u), x2: xs(u), y1: rowY[row][0], y2: rowY[row][1], stroke: '#e6e6fa', 'stroke-width': 5});
    
    
  });
  drawAxes(g, col, row, function (t) { t.textContent = titleText; }, tag, '%', false);
  sectionLabels.forEach(function (s, i) {
    const u = sectionStart + i * sectionStep;
    const bx = xs(u) - 10.3;
    const bw = s.length > 1 ? 83 : 52;
    const box = mk('rect', g, {x: bx, y: rowY[row][1] - 68.5, width: bw, height: 68.5, fill: '#fff', 'fill-opacity': 0.97, stroke: '#000', 'stroke-width': 2.8});
    
    
    const tx = mk('text', g, {x: bx + 10.5, y: rowY[row][1] - 20.5}, s);
    
    
  });
}

function drawCoPanel(name, col, row, era, tag, titleShift, kinBand, diaBand, kinScatter, diaScatter) {
  const xs = xAxis(col), ys = yAxis(row);
  const g = mk('g', svg, {});
  
  
  clipFor('clip-' + name, col, row);
  const plot = mk('g', g, {'clip-path': 'url(#clip-' + name + ')'});
  
  
  sectionLabels.forEach(function (s, i) {
    const u = sectionStart + i * sectionStep;
    const ln = mk('line', plot, {x1: xs(u), x2: xs(u), y1: rowY[row][0], y2: rowY[row][1], stroke: '#e6e6fa', 'stroke-width': 5});
    
    
  });
  const coldPts = coldPpb.map(function (v, i) { return fmt(xs(coldStart + i * coldStep)) + ',' + fmt(ys(v)); }).join(' ');
  const cold = mk('polyline', plot, {points: coldPts, fill: 'none', stroke: '#00bfbf', 'stroke-width': 10, 'stroke-linejoin': 'round'});
  
  
  const series = [[kinBand, kinScatter, '#0000ff', 'kinematic'], [diaBand, diaScatter, '#ff0000', 'diabatic']];
  series.forEach(function (s) {
    const pts = s[0].map(function (v, i) { return fmt(xs(kinBandStart + i * kinBandStep)) + ',' + fmt(ys(v)); }).join(' ');
    const band = mk('polyline', plot, {points: pts, fill: 'none', stroke: s[2], 'stroke-width': 24, 'stroke-linejoin': 'round', 'stroke-linecap': 'round'});
    
    
    s[1].forEach(function (p) {
      const dot = mk('circle', plot, {cx: fmt(xs(p[0])), cy: fmt(ys(p[1])), r: 5.5, fill: s[2]});
      
      
    });
  });
  drawAxes(g, col, row, function (t) {
    t.setAttribute('x', (colX[col][0] + colX[col][1]) / 2 + titleShift);
    const a = mk('tspan', t, {'font-style': 'italic'}, '\u03b4');
    
    
    const b = mk('tspan', t, {}, 'CO');
    
    
    const c = mk('tspan', t, {dy: 10, 'font-size': 34}, 'proxy');
    
    
    const d = mk('tspan', t, {dy: -10}, ' from ' + era + ' trajectories vs. COLD measurements');
    
    
  }, tag, 'ppbv', true);

  const lx = colX[col][0] + 24.5;
  const lg = mk('g', g, {});
  
  
  const fr = mk('rect', lg, {x: lx, y: rowY[row][0] + 22, width: 497, height: 223, rx: 8, fill: '#fff', 'fill-opacity': 0.8, stroke: '#cccccc', 'stroke-width': 2.8});
  
  
  const entries = [['Kinematic traj', '#0000ff'], ['Diabatic traj', '#ff0000'], ['', '#00bfbf']];
  entries.forEach(function (e, i) {
    const cy = rowY[row][0] + 61 + i * 69;
    const h = mk('rect', lg, {x: lx + 12, y: cy - 7, width: 106, height: 14, fill: e[1]});
    
    
    const t = mk('text', lg, {x: lx + 151, y: cy + 16, style: 'font-size:46.7px;letter-spacing:0'}, e[0]);
    
    
    if (i === 2) {
      const a = mk('tspan', t, {'font-style': 'italic'}, '\u03b4');
      
      
      const b = mk('tspan', t, {}, 'CO');
      
      
      const c = mk('tspan', t, {dy: 10, 'font-size': 33}, 'cold');
      
      
    }
  });
}

drawStackPanel('eaz', 0, 0, 'EAZ', '(a)', [aIndianSub, aTibetan, aPakistan, aSouthChina], [aBoB, aIO, aSCSPhi, aPen, aMPac, aBangladesh], aTot, aRecirc, aColumns, aTailUtc, aTailBlue);
drawStackPanel('eiz', 1, 0, 'EIZ', '(b)', [bIndianSub, bTibetan, bPakistan, bSouthChina], [bBoB, bIO, bSCSPhi, bPen, bMPac, bBangladesh], bTot, bRecirc, bColumns, bTailUtc, bTailBlue);
drawStackPanel('ead', 0, 1, 'EAD', '(c)', [cIndianSub, cTibetan, cPakistan, cSouthChina], [cBoB, cIO, cSCSPhi, cPen, cMPac, cBangladesh], cTot, cRecirc, cColumns, cTailUtc, cTailBlue);
drawStackPanel('eid', 1, 1, 'EID', '(d)', [dIndianSub, dTibetan, dPakistan, dSouthChina], [dBoB, dIO, dSCSPhi, dPen, dMPac, dBangladesh], dTot, dRecirc, dColumns, dTailUtc, dTailBlue);
drawCoPanel('co-era5', 0, 2, 'ERA-5', '(e)', 0, kin5Band, dia5Band, kin5Scatter, dia5Scatter);
drawCoPanel('co-erai', 1, 2, 'ERA-Interim', '(f)', -16, kinIntBand, diaIntBand, kinIntScatter, diaIntScatter);

// ---------- bottom legend ----------
const legendOrder = [11, 10, 9, 8, 7, 6, 5, 4, 3, 2, 1, 0];
const legendColumn = [0, 0, 0, 1, 1, 1, 2, 2, 3, 3, 4, 4];
const legendRow = [0, 1, 2, 0, 1, 2, 0, 1, 0, 1, 0, 1];
const legendSwatchX = [881, 1580, 1997, 2336, 2885];
const legendRowY = [2580, 2653.5, 2727];
const sourceLegend = mk('g', svg, {});


const legendShadow = mk('rect', sourceLegend, {x: 871, y: 2564, width: 2583, height: 243, rx: 9, fill: '#000', 'fill-opacity': 0.45});


const legendFrame = mk('rect', sourceLegend, {x: 864, y: 2557, width: 2583, height: 243, rx: 9, fill: '#fff', stroke: '#cccccc', 'stroke-width': 2.8});


legendOrder.forEach(function (k, i) {
  const sx = legendSwatchX[legendColumn[i]], sy = legendRowY[legendRow[i]];
  const sw = mk('rect', sourceLegend, {x: sx, y: sy, width: 103, height: 39, fill: layerColors[k]});
  
  
  const tx = mk('text', sourceLegend, {x: sx + 141, y: sy + 37}, layerNames[k]);
  
  
});
</script>
</body>
</html>
